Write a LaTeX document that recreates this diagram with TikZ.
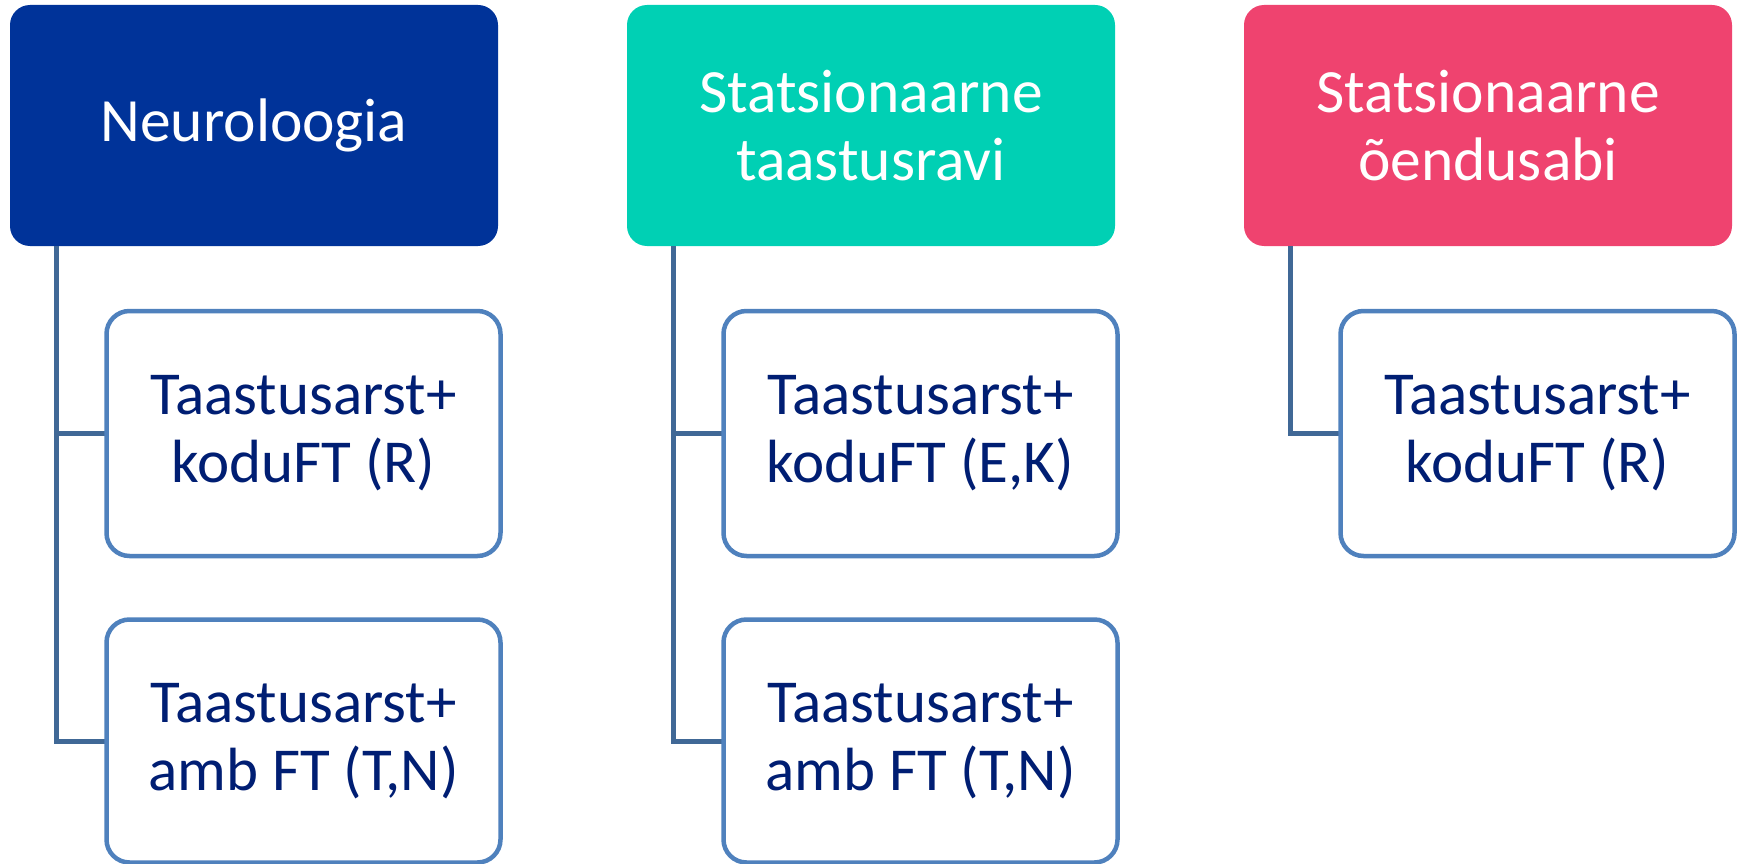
\documentclass[tikz,border=0pt]{standalone}
\usepackage{fontspec}
\setmainfont{Carlito}
\definecolor{hblue}{RGB}{0,51,153}
\definecolor{hteal}{RGB}{0,208,180}
\definecolor{hpink}{RGB}{239,67,111}
\definecolor{cborder}{RGB}{79,129,189}
\definecolor{cline}{RGB}{64,104,150}
\definecolor{ctext}{RGB}{0,30,115}
\begin{document}
\begin{tikzpicture}[x=1pt,y=-1pt,
  head/.style={rounded corners=20pt, minimum width=488pt, minimum height=241pt,
    inner sep=0pt, text=white, align=center, font=\fontsize{61.5}{68}\selectfont},
  child/.style={draw=cborder, line width=4.5pt, fill=white, rounded corners=23pt,
    minimum width=394pt, inner sep=0pt, text=ctext, align=center,
    font=\fontsize{61}{68}\selectfont},
  conn/.style={draw=cline, line width=5pt}]
\useasboundingbox (0,0) rectangle (1743,864);
\node[head, fill=hblue] (h1) at (254,125.5) {Neuroloogia};
\node[head, fill=hteal] (h2) at (871,125.5) {Statsionaarne\\taastusravi};
\node[head, fill=hpink] (h3) at (1488,125.5) {Statsionaarne\\õendusabi};
\draw[conn] ([xshift=47pt]h1.south west) |- (303.5,433.5);
\draw[conn] ([xshift=47pt]h1.south west) |- (303.5,741);
\draw[conn] ([xshift=47pt]h2.south west) |- (920.5,433.5);
\draw[conn] ([xshift=47pt]h2.south west) |- (920.5,741);
\draw[conn] ([xshift=47pt]h3.south west) |- (1537.5,433.5);
\node[child, minimum height=245pt] (c1a) at (303.5,433.5) {Taastusarst+\\koduFT (R)};
\node[child, minimum height=243pt] (c1b) at (303.5,741) {Taastusarst+\\amb FT (T,N)};
\node[child, minimum height=245pt] (c2a) at (920.5,433.5) {Taastusarst+\\koduFT (E,K)};
\node[child, minimum height=243pt] (c2b) at (920.5,741) {Taastusarst+\\amb FT (T,N)};
\node[child, minimum height=245pt] (c3a) at (1537.5,433.5) {Taastusarst+\\koduFT (R)};
\end{tikzpicture}
\end{document}
